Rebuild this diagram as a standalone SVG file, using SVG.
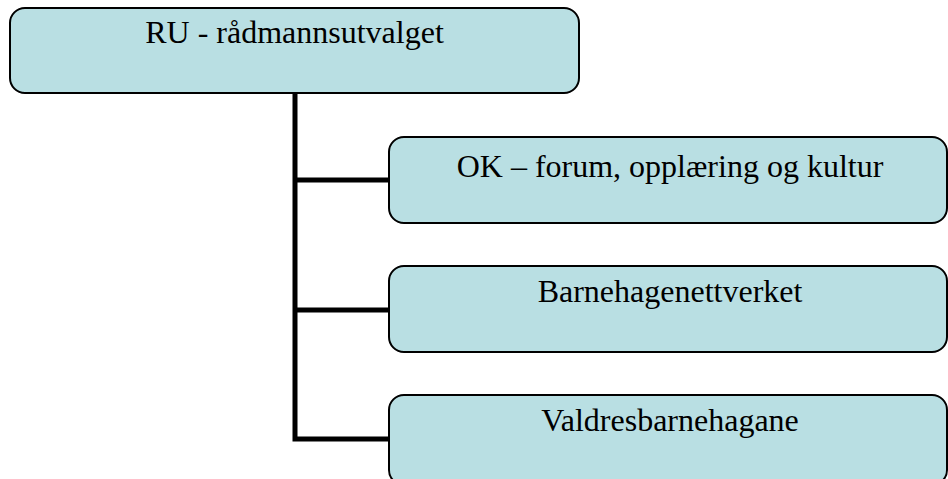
<svg xmlns="http://www.w3.org/2000/svg" width="948" height="479" viewBox="0 0 948 479">
<style>
.box{fill:#b9dfe3;stroke:#000;stroke-width:2}
.lbl{font-family:"Liberation Serif","Times New Roman",serif;font-size:32px;fill:#000;text-anchor:middle}
.conn{stroke:#000;stroke-width:5;fill:none;stroke-linecap:butt;stroke-linejoin:miter}
</style>
<rect width="948" height="479" fill="#fff"/>
<g id="connectors">
<path class="conn" d="M295,93 V439 H390"/>
<path class="conn" d="M295,180 H390"/>
<path class="conn" d="M295,310 H390"/>
</g>
<g id="ru">
<rect class="box" x="10" y="8" width="569" height="85" rx="15" ry="15"/>
<text class="lbl" x="294.5" y="43">RU - rådmannsutvalget</text>
</g>
<g id="ok">
<rect class="box" x="389" y="137" width="558" height="86" rx="15" ry="15"/>
<text class="lbl" x="670" y="177">OK – forum, opplæring og kultur</text>
</g>
<g id="barnehagenettverket">
<rect class="box" x="389" y="266" width="558" height="86" rx="15" ry="15"/>
<text class="lbl" x="670" y="302">Barnehagenettverket</text>
</g>
<g id="valdresbarnehagane">
<rect class="box" x="389" y="395" width="558" height="90" rx="15" ry="15"/>
<text class="lbl" x="670" y="431">Valdresbarnehagane</text>
</g>
</svg>
